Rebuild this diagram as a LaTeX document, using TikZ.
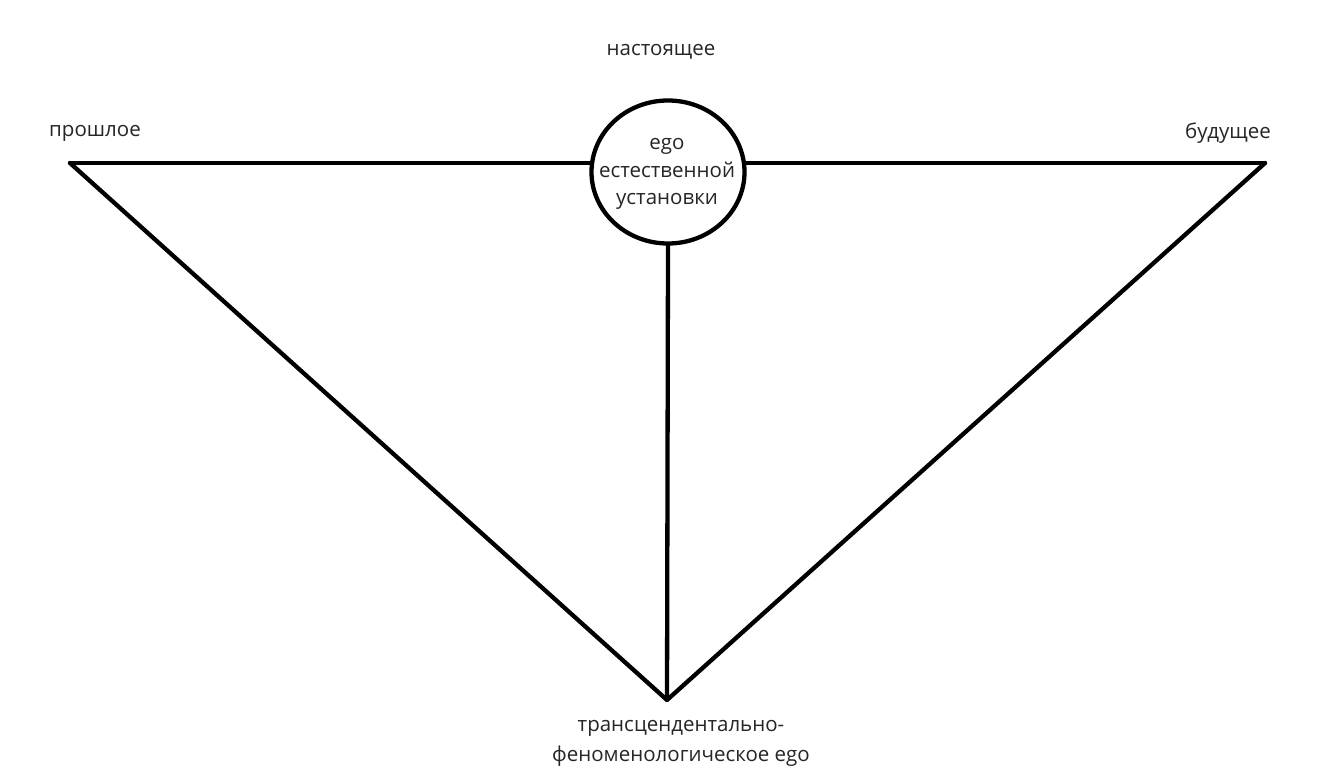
\documentclass[tikz,border=0pt]{standalone}
\usepackage{fontspec}
\usetikzlibrary{shapes.geometric}
\setmainfont{Open Sans}
\begin{document}
\begin{tikzpicture}[x=1pt,y=-1pt,
  lbl/.style={inner sep=0pt,font=\fontsize{20.5}{27.5}\selectfont,text=black!85},
  edge/.style={line width=4.3pt,line cap=round,line join=round}]
\useasboundingbox[fill=white] (0,0) rectangle (1329,778);
\coordinate (L) at (70,163);
\coordinate (R) at (1265,163);
\coordinate (B) at (667,700);
\node[draw,line width=4.3pt,ellipse,minimum width=153pt,minimum height=143pt,inner sep=0pt] (ego) at (668,172) {};
\node[lbl,align=center] (egotxt) at (667,174) {ego\\естественной\\установки};
\node[lbl] (now) at (661,52) {настоящее};
\node[lbl] (past) at (95,133) {прошлое};
\node[lbl] (fut) at (1228,133) {будущее};
\node[lbl,align=center,font=\fontsize{20.5}{30}\selectfont] (trans) at (681,743) {трансцендентально-\\феноменологическое ego};
\draw[edge] (L) -- (ego.west |- L);
\draw[edge] (ego.east |- R) -- (R);
\draw[edge] (L) -- (B) -- (R);
\draw[edge] (ego.south) -- (B);
\end{tikzpicture}
\end{document}
